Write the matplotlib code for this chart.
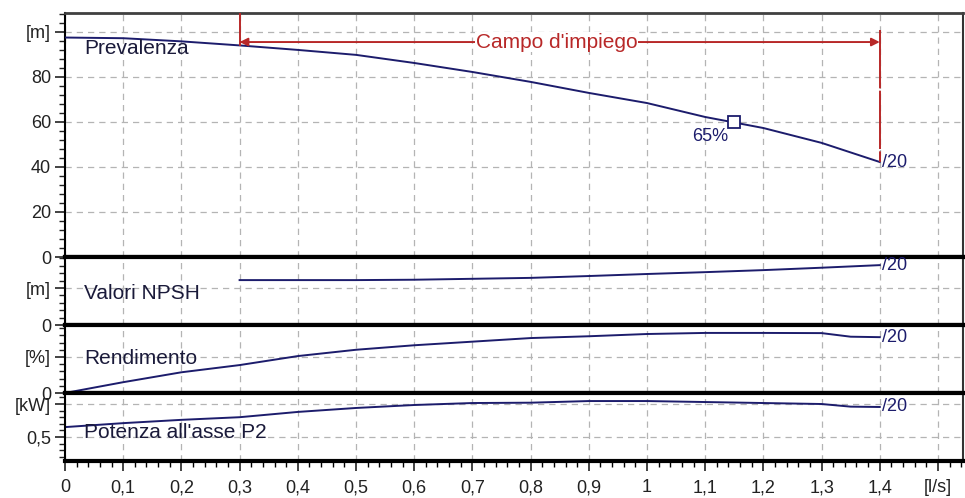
import numpy as np
import matplotlib
matplotlib.use('Agg')
from matplotlib import pyplot as plt
from matplotlib.ticker import MultipleLocator, FixedLocator, FixedFormatter

plt.rcParams['font.family'] = ['Liberation Sans', 'DejaVu Sans']

# portata [l/s]
q = [0, 0.1, 0.2, 0.3, 0.4, 0.5, 0.6, 0.7, 0.8, 0.9, 1.0, 1.1, 1.2, 1.3, 1.4]
# prevalenza [m]
head = [97.5, 97.2, 95.8, 94.0, 92.0, 89.8, 86.2, 82.2, 77.8, 72.9, 68.4, 62.2, 57.3, 50.7, 42.2]
# NPSH [m]
q_npsh = [0.3, 0.4, 0.5, 0.6, 0.7, 0.8, 0.9, 1.0, 1.1, 1.2, 1.3, 1.4]
npsh = [2.43, 2.43, 2.43, 2.45, 2.50, 2.55, 2.65, 2.76, 2.86, 2.97, 3.10, 3.24]
# rendimento [%] e potenza P2 [kW]
q2 = [0, 0.1, 0.2, 0.3, 0.4, 0.5, 0.6, 0.7, 0.8, 0.9, 1.0, 1.1, 1.2, 1.3, 1.35, 1.4]
eff = [0, 12, 23, 31, 41, 48, 53, 57, 61, 63, 65.5, 66.7, 66.7, 66.5, 62.5, 62]
power = [0.65, 0.71, 0.76, 0.80, 0.88, 0.94, 0.985, 1.015, 1.02, 1.045, 1.045, 1.03, 1.015, 1.0, 0.96, 0.955]

bep_q, bep_h, bep_lbl = 1.15, 60, '65%'
campo = [0.3, 1.4]
campo_h = 95.5
diam = '/20'

x_ticks = [0, 0.1, 0.2, 0.3, 0.4, 0.5, 0.6, 0.7, 0.8, 0.9, 1.0, 1.1, 1.2, 1.3, 1.4, 1.5]
x_lbls = ['0', '0,1', '0,2', '0,3', '0,4', '0,5', '0,6', '0,7', '0,8', '0,9', '1',
          '1,1', '1,2', '1,3', '1,4', '[l/s]']

blu = '#1c1c6c'
rosso = '#b82828'
fs = 15

fig = plt.figure(figsize=(9.65, 4.98), dpi=100)
W, H = 965., 498.
left, right = 65 / W, 963 / W
edges = [13, 257, 325, 393, 461]   # pixel dall'alto
axs = []
for i in range(4):
    b = (H - edges[i + 1]) / H
    h = (edges[i + 1] - edges[i]) / H
    ax = fig.add_axes([left, b, right - left, h], sharex=axs[0] if axs else None)
    axs.append(ax)

ylims = [(0, 108.4), (0, 3.68), (0, 75.5), (0.136, 1.167)]
yticks = [[0, 20, 40, 60, 80, 100], [0, 2], [0, 40], [0.5, 1.0]]
ylbls = [['0', '20', '40', '60', '80', '[m]'], ['0', '[m]'], ['0', '[%]'], ['0,5', '[kW]']]
yminor = [4, 0.4, 8, 0.1]
names = ['Prevalenza', 'Valori NPSH', 'Rendimento', "Potenza all'asse P2"]
name_y = [0.855, 0.47, 0.5, 0.42]

for i, ax in enumerate(axs):
    ax.set_xlim(0, 1.543)
    ax.set_ylim(*ylims[i])
    ax.yaxis.set_major_locator(FixedLocator(yticks[i]))
    ax.yaxis.set_major_formatter(FixedFormatter(ylbls[i]))
    ax.yaxis.set_minor_locator(MultipleLocator(yminor[i]))
    ax.xaxis.set_major_locator(FixedLocator(x_ticks))
    ax.xaxis.set_minor_locator(MultipleLocator(0.02))
    ax.grid(True, which='major', color='#b4b4b4', linestyle=(0, (5, 4)), linewidth=0.9)
    ax.set_axisbelow(True)
    ax.tick_params(axis='y', which='major', length=7, width=1.2, labelsize=13, colors='#222222', pad=3)
    ax.tick_params(axis='y', which='minor', length=4, width=1.0, color='#222222')
    ax.tick_params(axis='x', which='both', bottom=(i == 3), labelbottom=(i == 3))
    ax.spines['left'].set_linewidth(1.5)
    ax.spines['right'].set_linewidth(1.5)
    ax.spines['right'].set_color('#333333')
    ax.spines['top'].set_linewidth(3 if i > 0 else 2)
    ax.spines['top'].set_color('black' if i > 0 else '#404040')
    ax.spines['bottom'].set_linewidth(3)
    ax.text(0.021, name_y[i], names[i], transform=ax.transAxes, fontsize=fs,
            color='#1a1a3a', va='center', ha='left', zorder=5)

axs[3].set_xticklabels(x_lbls)
axs[3].tick_params(axis='x', which='major', length=7, width=1.2, labelsize=13,
                   colors='#222222', pad=6)
axs[3].tick_params(axis='x', which='minor', length=4, width=1.0)

# curve
ax0 = axs[0]
ax0.plot(q, head, color=blu, lw=1.4, zorder=3)
ax0.plot(bep_q, bep_h, marker='s', ms=8, mfc='white', mec=blu, mew=1.3, zorder=4)
ax0.text(bep_q - 0.01, bep_h - 2.5, bep_lbl, fontsize=13, color=blu, ha='right', va='top')
axs[1].plot(q_npsh, npsh, color=blu, lw=1.4)
axs[2].plot(q2, eff, color=blu, lw=1.4)
axs[3].plot(q2, power, color=blu, lw=1.4)

ends = [(ax0, head[-1]), (axs[1], npsh[-1]), (axs[2], eff[-1]), (axs[3], power[-1])]
for ax, yv in ends:
    ax.text(q[-1] + 0.003, yv, diam, fontsize=13, color=blu, ha='left', va='center')

# campo d'impiego
ax0.plot([campo[0], campo[0]], [ylims[0][1], head[3]], color=rosso, lw=1.4, zorder=3)
ax0.plot([campo[1], campo[1]], [101, head[-1]], color=rosso, lw=1.4,
         linestyle=(0, (30, 1.2)), zorder=3)
ax0.annotate('', xy=(campo[0], campo_h), xytext=(campo[1], campo_h),
             arrowprops=dict(arrowstyle='<|-|>', color=rosso, lw=1.4,
                             mutation_scale=12, shrinkA=0, shrinkB=0), zorder=3)
ax0.text((campo[0] + campo[1]) / 2 - 0.005, campo_h, "Campo d'impiego", fontsize=fs,
         color=rosso, ha='center', va='center',
         bbox=dict(facecolor='white', edgecolor='none', pad=0.5), zorder=4)

plt.savefig('out.png', dpi=100)
